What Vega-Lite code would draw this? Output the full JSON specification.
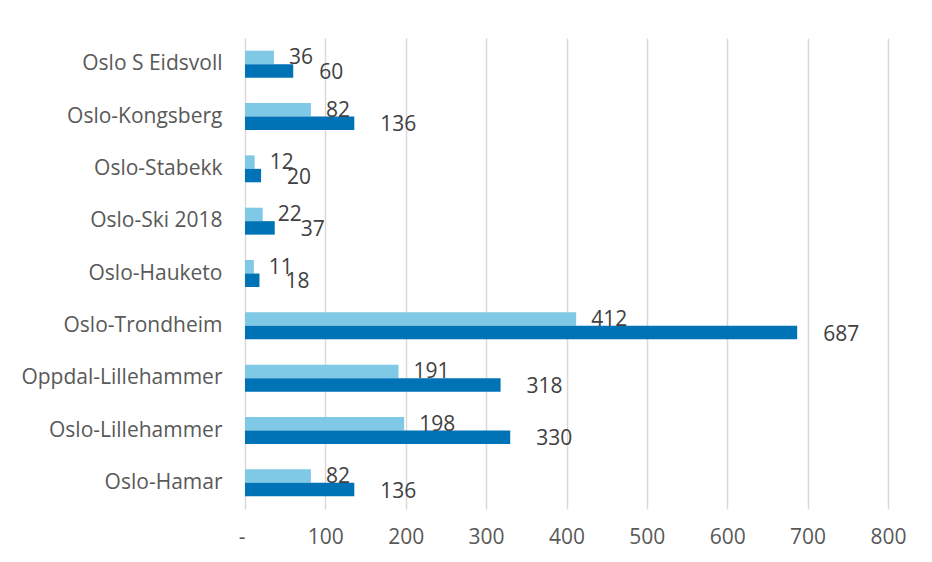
{
  "$schema": "https://vega.github.io/schema/vega-lite/v6.json",
  "width": 643,
  "height": 471,
  "autosize": {"type": "none"},
  "padding": {"left": 245, "top": 38, "right": 44, "bottom": 53},
  "background": "white",
  "config": {"view": {"stroke": null}, "font": "Open Sans"},
  "data": {
    "values": [
      {"route": "Oslo S Eidsvoll", "series": "Serie 1", "value": 36},
      {"route": "Oslo S Eidsvoll", "series": "Serie 2", "value": 60},
      {"route": "Oslo-Kongsberg", "series": "Serie 1", "value": 82},
      {"route": "Oslo-Kongsberg", "series": "Serie 2", "value": 136},
      {"route": "Oslo-Stabekk", "series": "Serie 1", "value": 12},
      {"route": "Oslo-Stabekk", "series": "Serie 2", "value": 20},
      {"route": "Oslo-Ski 2018", "series": "Serie 1", "value": 22},
      {"route": "Oslo-Ski 2018", "series": "Serie 2", "value": 37},
      {"route": "Oslo-Hauketo", "series": "Serie 1", "value": 11},
      {"route": "Oslo-Hauketo", "series": "Serie 2", "value": 18},
      {"route": "Oslo-Trondheim", "series": "Serie 1", "value": 412},
      {"route": "Oslo-Trondheim", "series": "Serie 2", "value": 687},
      {"route": "Oppdal-Lillehammer", "series": "Serie 1", "value": 191},
      {"route": "Oppdal-Lillehammer", "series": "Serie 2", "value": 318},
      {"route": "Oslo-Lillehammer", "series": "Serie 1", "value": 198},
      {"route": "Oslo-Lillehammer", "series": "Serie 2", "value": 330},
      {"route": "Oslo-Hamar", "series": "Serie 1", "value": 82},
      {"route": "Oslo-Hamar", "series": "Serie 2", "value": 136}
    ]
  },
  "encoding": {
    "y": {
      "field": "route",
      "type": "nominal",
      "sort": ["Oslo S Eidsvoll", "Oslo-Kongsberg", "Oslo-Stabekk", "Oslo-Ski 2018", "Oslo-Hauketo", "Oslo-Trondheim", "Oppdal-Lillehammer", "Oslo-Lillehammer", "Oslo-Hamar"],
      "scale": {"paddingInner": 0.485, "paddingOuter": 0.2425},
      "axis": {"title": null, "domain": false, "ticks": false, "labelFontSize": 21, "labelColor": "#595959", "labelPadding": 23, "labelLimit": 400, "labelFont": "Open Sans"}
    },
    "yOffset": {
      "field": "series",
      "type": "nominal",
      "sort": ["Serie 1", "Serie 2"],
      "scale": {"paddingInner": 0, "paddingOuter": 0}
    }
  },
  "layer": [
    {
      "mark": {"type": "bar"},
      "encoding": {
        "x": {
          "field": "value",
          "type": "quantitative",
          "scale": {"domain": [0, 800], "nice": false},
          "axis": {
            "title": null,
            "values": [0, 100, 200, 300, 400, 500, 600, 700, 800],
            "labelExpr": "datum.value === 0 ? '-' : datum.label",
            "labelAlign": {"condition": {"test": "datum.value === 0", "value": "right"}, "value": "center"},
            "grid": true,
            "gridColor": "#D9D9D9",
            "gridWidth": 1.5,
            "domain": false,
            "ticks": false,
            "labelFontSize": 21,
            "labelColor": "#595959",
            "labelPadding": 17,
            "labelFont": "Open Sans"
          }
        },
        "color": {
          "field": "series",
          "type": "nominal",
          "scale": {"domain": ["Serie 1", "Serie 2"], "range": ["#7FC9E6", "#0072B6"]},
          "legend": null
        }
      }
    },
    {
      "transform": [{"filter": "datum.series === 'Serie 1'"}],
      "mark": {"type": "text", "align": "left", "baseline": "middle", "dx": 15, "dy": 1, "fontSize": 21, "color": "#404040", "font": "Open Sans"},
      "encoding": {
        "x": {"field": "value", "type": "quantitative"},
        "text": {"field": "value", "type": "quantitative"}
      }
    },
    {
      "transform": [{"filter": "datum.series === 'Serie 2'"}],
      "mark": {"type": "text", "align": "left", "baseline": "middle", "dx": 26, "dy": 2, "fontSize": 21, "color": "#404040", "font": "Open Sans"},
      "encoding": {
        "x": {"field": "value", "type": "quantitative"},
        "text": {"field": "value", "type": "quantitative"}
      }
    }
  ]
}
